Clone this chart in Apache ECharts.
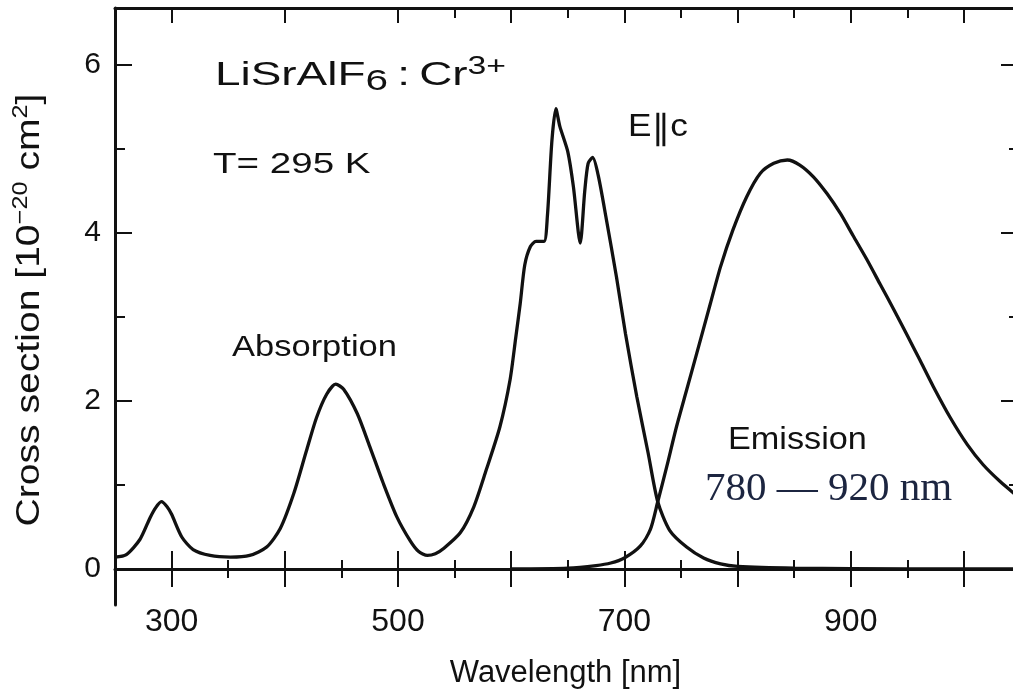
<!DOCTYPE html>
<html><head><meta charset="utf-8">
<script src="https://cdn.jsdelivr.net/npm/echarts@6/dist/echarts.min.js"></script>
<style>html,body{margin:0;padding:0;background:#fff}#c{width:1013px;height:696px}</style>
</head><body><div id="c"></div>
<script>
// ---- data ----
const absorptionNm  = [250,260,272,281,286,291,296,300,309,319,334,352,369,384,396,408,419,428,437,445,452,464,475,487,499,511,518,526,533,540,555,567,578,590,599,604,608,612,617,622,629,632,636,639.5,643,650,655,661,665,668,672,677,684,693,701,711,721,729.5,740,755,770,785,800,850,950,1046];
const absorptionVal = [0.14,0.17,0.35,0.61,0.73,0.80,0.74,0.65,0.38,0.23,0.16,0.14,0.16,0.26,0.48,0.90,1.40,1.80,2.08,2.20,2.14,1.85,1.46,1.02,0.62,0.33,0.21,0.16,0.18,0.24,0.43,0.74,1.18,1.69,2.25,2.75,3.16,3.62,3.84,3.90,3.90,4.20,5.10,5.48,5.27,4.97,4.55,3.88,4.50,4.83,4.90,4.68,4.17,3.48,2.80,2.05,1.38,0.80,0.46,0.26,0.13,0.06,0.03,0.01,0.0,0.0];
const emissionNm  = [600,650,675,688,700,714,723,729.5,737.5,746,755,764,776,785,796,808,820,832,844,855,867,879,891,902,914,926,938,950,961,973,988,1003,1017,1032,1046];
const emissionVal = [0.0,0.01,0.04,0.07,0.13,0.27,0.47,0.80,1.22,1.69,2.13,2.57,3.16,3.60,4.04,4.43,4.71,4.83,4.87,4.81,4.67,4.47,4.23,3.97,3.69,3.39,3.09,2.78,2.49,2.17,1.80,1.48,1.24,1.04,0.88];

const xMajorTicks    = [300,400,500,600,700,800,900,1000];
const xMinorTicks    = [350,450,550,650,750,850,950];
const xTopMinorTicks = [550,650,750,850,950];
const xTickLabels    = [300,500,700,900];
const yMajorTicks    = [2,4,6];
const yMinorTicks    = [1,3,5];
const yTickLabels    = [0,2,4,6];

const X_MIN = 250, X_MAX = 1046, Y_MIN = -0.43, Y_MAX = 6.68;
const FONT = '"Liberation Sans", Arial, Helvetica, sans-serif';
const INK = '#111';

function xAx(o) {
  return Object.assign({
    type: 'value', min: X_MIN, max: X_MAX, splitLine: { show: false },
    axisLabel: { show: false }, axisLine: { show: false }
  }, o);
}
function yAx(o) {
  return Object.assign({
    type: 'value', min: Y_MIN, max: Y_MAX, splitLine: { show: false },
    axisLabel: { show: false }, axisLine: { show: false, onZero: false }
  }, o);
}
function tick(values, len, inside, w) {
  return { show: true, customValues: values, length: len, inside: inside, lineStyle: { color: INK, width: w || 2 } };
}

const chart = echarts.init(document.getElementById('c'), null, { renderer: 'canvas' });
chart.setOption({
  animation: false,
  backgroundColor: '#fff',
  grid: { left: 115, top: 8, width: 901, height: 597, containLabel: false, outerBoundsMode: 'none' },
  xAxis: [
    xAx({
      position: 'bottom',
      axisLine: { show: true, onZero: true, onZeroAxisIndex: 0, lineStyle: { color: INK, width: 3 } },
      axisTick: tick(xMajorTicks, 18, false),
      axisLabel: { show: true, customValues: xTickLabels, fontSize: 32, fontFamily: FONT, color: INK, margin: 1 },
      name: 'Wavelength [nm]', nameLocation: 'middle', nameGap: 53,
      nameTextStyle: { fontSize: 31, fontFamily: FONT, color: INK }
    }),
    xAx({ position: 'bottom', axisLine: { show: false, onZero: true, onZeroAxisIndex: 0 }, axisTick: tick(xMajorTicks, 18, true) }),
    xAx({ position: 'bottom', axisLine: { show: false, onZero: true, onZeroAxisIndex: 0 }, axisTick: tick(xMinorTicks, 9, false) }),
    xAx({ position: 'bottom', axisLine: { show: false, onZero: true, onZeroAxisIndex: 0 }, axisTick: tick(xMinorTicks, 9, true) }),
    xAx({ position: 'top', axisLine: { show: true, onZero: false, lineStyle: { color: INK, width: 3 } }, axisTick: tick(xMajorTicks, 15, true) }),
    xAx({ position: 'top', axisLine: { show: false, onZero: false }, axisTick: tick(xTopMinorTicks, 10, true) })
  ],
  yAxis: [
    yAx({
      position: 'left',
      axisLine: { show: true, onZero: false, lineStyle: { color: INK, width: 3 } },
      axisTick: tick(yMajorTicks, 17, true),
      axisLabel: { show: true, customValues: yTickLabels, fontSize: 30, fontFamily: FONT, color: INK, margin: 14 }
    }),
    yAx({ position: 'left', axisTick: tick(yMinorTicks, 10, true) }),
    yAx({ position: 'right', axisLine: { show: true, onZero: false, lineStyle: { color: INK, width: 3 } }, axisTick: tick(yMajorTicks, 15, true) }),
    yAx({ position: 'right', axisTick: tick(yMinorTicks, 7, true) })
  ],
  series: [
    {
      name: 'Absorption', type: 'line', xAxisIndex: 0, yAxisIndex: 0,
      data: absorptionNm.map((x, i) => [x, absorptionVal[i]]),
      showSymbol: false, smooth: 0.25, clip: true,
      lineStyle: { color: INK, width: 3.3 }
    },
    {
      name: 'Emission', type: 'line', xAxisIndex: 0, yAxisIndex: 0,
      data: emissionNm.map((x, i) => [x, emissionVal[i]]),
      showSymbol: false, smooth: 0.25, clip: true,
      lineStyle: { color: INK, width: 3.3 }
    }
  ],
  graphic: [
    {
      type: 'text', x: 30, y: 310, rotation: Math.PI / 2, scaleX: 1.15,
      style: {
        text: '{a|Cross section [10}{sup|\u221220}{a| cm}{sup|2}{a|]}',
        align: 'center', textAlign: 'center', verticalAlign: 'middle', textVerticalAlign: 'middle', fill: INK,
        rich: {
          a: { fontSize: 34, fontFamily: FONT, fill: INK, lineHeight: 40, verticalAlign: 'middle' },
          sup: { fontSize: 22, fontFamily: FONT, fill: INK, lineHeight: 22, verticalAlign: 'top' }
        }
      }
    },
    {
      type: 'text', x: 215, y: 55, scaleX: 1.35,
      style: {
        text: '{a|LiSrAlF}{sub|6}{a|\u2009:\u2009Cr}{sup|3+}',
        verticalAlign: 'top', textVerticalAlign: 'top', fill: INK,
        rich: {
          a: { fontSize: 34, fontFamily: FONT, fill: INK, lineHeight: 42, verticalAlign: 'middle' },
          sub: { fontSize: 30, fontFamily: FONT, fill: INK, lineHeight: 26, verticalAlign: 'bottom' },
          sup: { fontSize: 25, fontFamily: FONT, fill: INK, lineHeight: 25, verticalAlign: 'top' }
        }
      }
    },
    { type: 'text', x: 213, y: 165, scaleX: 1.33,
      style: { text: 'T= 295 K', fontSize: 29, fontFamily: FONT, fill: INK, verticalAlign: 'middle', textVerticalAlign: 'middle' } },
    { type: 'text', x: 232, y: 348, scaleX: 1.15,
      style: { text: 'Absorption', fontSize: 30, fontFamily: FONT, fill: INK, verticalAlign: 'middle', textVerticalAlign: 'middle' } },
    { type: 'text', x: 628, y: 110, scaleX: 1.1,
      style: {
        text: '{a|E}{b|\u2225}{a|c}', verticalAlign: 'top', textVerticalAlign: 'top', fill: INK,
        rich: {
          a: { fontSize: 32, fontFamily: FONT, fill: INK, lineHeight: 34, verticalAlign: 'middle' },
          b: { fontSize: 34, fontFamily: '"DejaVu Sans", sans-serif', fill: INK, lineHeight: 34, verticalAlign: 'middle', padding: [6, 0, 0, 0] }
        }
      } },
    { type: 'text', x: 728, y: 440, scaleX: 1.07,
      style: { text: 'Emission', fontSize: 32, fontFamily: FONT, fill: INK, verticalAlign: 'middle', textVerticalAlign: 'middle' } },
    { type: 'text', x: 705, y: 489,
      style: { text: '780 \u2014 920 nm', fontSize: 41, fontFamily: '"Liberation Serif", "Times New Roman", serif', fill: '#1c2540', verticalAlign: 'middle', textVerticalAlign: 'middle' } }
  ]
});
</script>
</body></html>
